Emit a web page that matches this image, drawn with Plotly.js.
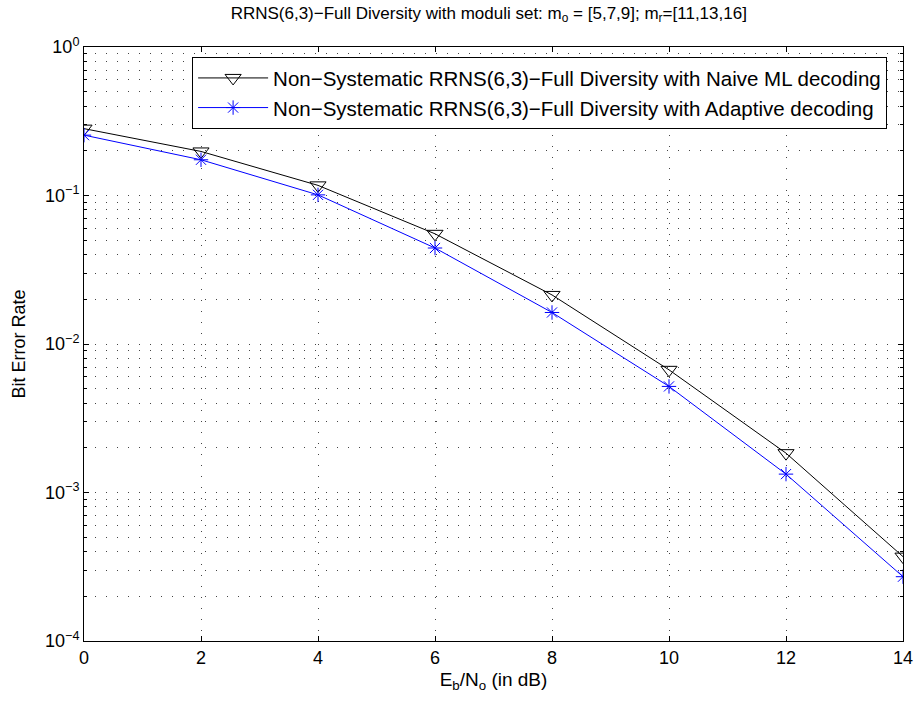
<!DOCTYPE html>
<html>
<head>
<meta charset="utf-8">
<script src="https://cdn.plot.ly/plotly-3.0.1.min.js"></script>
<style>html,body{margin:0;padding:0;background:#fff;}#chart{width:917px;height:702px;}</style>
</head>
<body>
<div id="chart"></div>
<script>
const ebno = [0, 2, 4, 6, 8, 10, 12, 14];
const berNaiveML = [0.282, 0.198, 0.117, 0.0552, 0.0214, 0.0067, 0.00184, 0.00037];
const berAdaptive = [0.255, 0.174, 0.101, 0.0443, 0.0163, 0.00518, 0.00133, 0.000271];
const seriesNames = [
  "Non\u2212Systematic RRNS(6,3)\u2212Full Diversity with Naive ML decoding",
  "Non\u2212Systematic RRNS(6,3)\u2212Full Diversity with Adaptive decoding"
];
const yTickVals = [1e-4, 1e-3, 1e-2, 1e-1, 1];
const yTickText = ["10<sup>\u22124</sup>", "10<sup>\u22123</sup>", "10<sup>\u22122</sup>", "10<sup>\u22121</sup>", "10<sup>0</sup>"];
const xTickVals = [0, 2, 4, 6, 8, 10, 12, 14];

const font = "Liberation Sans, Arial, Helvetica, sans-serif";
const gridDash = "1px,10px";

const traces = [
  {
    x: ebno, y: berNaiveML, name: seriesNames[0], type: "scatter", mode: "lines+markers",
    line: {color: "#000000", width: 1},
    marker: {symbol: "triangle-down-open", size: 14, color: "#000000", line: {width: 1}}
  },
  {
    x: ebno, y: berAdaptive, name: seriesNames[1], type: "scatter", mode: "lines+markers",
    line: {color: "#0000ff", width: 1},
    marker: {symbol: "asterisk-open", size: 12, color: "#0000ff", line: {width: 1, color: "#0000ff"}}
  }
];

const layout = {
  width: 917, height: 702,
  margin: {l: 84, r: 14, t: 47, b: 61},
  paper_bgcolor: "#ffffff", plot_bgcolor: "#ffffff",
  font: {family: font, size: 18, color: "#000"},
  title: {
    text: "RRNS(6,3)\u2212Full Diversity with moduli set: m<sub>o</sub> = [5,7,9]; m<sub>r</sub>=[11,13,16]",
    font: {family: font, size: 17, color: "#000"},
    x: 0.533, xanchor: "center", y: 0.982, yanchor: "middle"
  },
  xaxis: {
    range: [0, 14], tickvals: xTickVals, ticks: "inside", ticklen: 5, tickcolor: "#000",
    showline: true, linecolor: "#000", linewidth: 1, mirror: "ticks",
    showgrid: true, gridcolor: "#444", griddash: gridDash, gridwidth: 1,
    zeroline: false, tickfont: {family: font, size: 18},
    title: {text: "E<sub>b</sub>/N<sub>o</sub> (in dB)", font: {family: font, size: 19}, standoff: 6}
  },
  yaxis: {
    type: "log", range: [-4, 0], tickvals: yTickVals, ticktext: yTickText,
    ticks: "inside", ticklen: 5, tickcolor: "#000",
    showline: true, linecolor: "#000", linewidth: 1, mirror: "ticks",
    showgrid: true, gridcolor: "#444", griddash: gridDash, gridwidth: 1,
    zeroline: false, tickfont: {family: font, size: 18},
    minor: {dtick: "D1", ticks: "inside", ticklen: 3, tickcolor: "#000", showgrid: true, gridcolor: "#444", griddash: gridDash, gridwidth: 1},
    title: {text: "Bit Error Rate", font: {family: font, size: 18}, standoff: 14}
  },
  showlegend: true,
  legend: {
    x: 0.132, xanchor: "left", y: 0.983, yanchor: "top",
    bgcolor: "#ffffff", bordercolor: "#000", borderwidth: 1,
    font: {family: font, size: 20.5}, tracegroupgap: 0, itemwidth: 70
  }
};

Plotly.newPlot("chart", traces, layout, {displayModeBar: false, staticPlot: true});
</script>
</body>
</html>
